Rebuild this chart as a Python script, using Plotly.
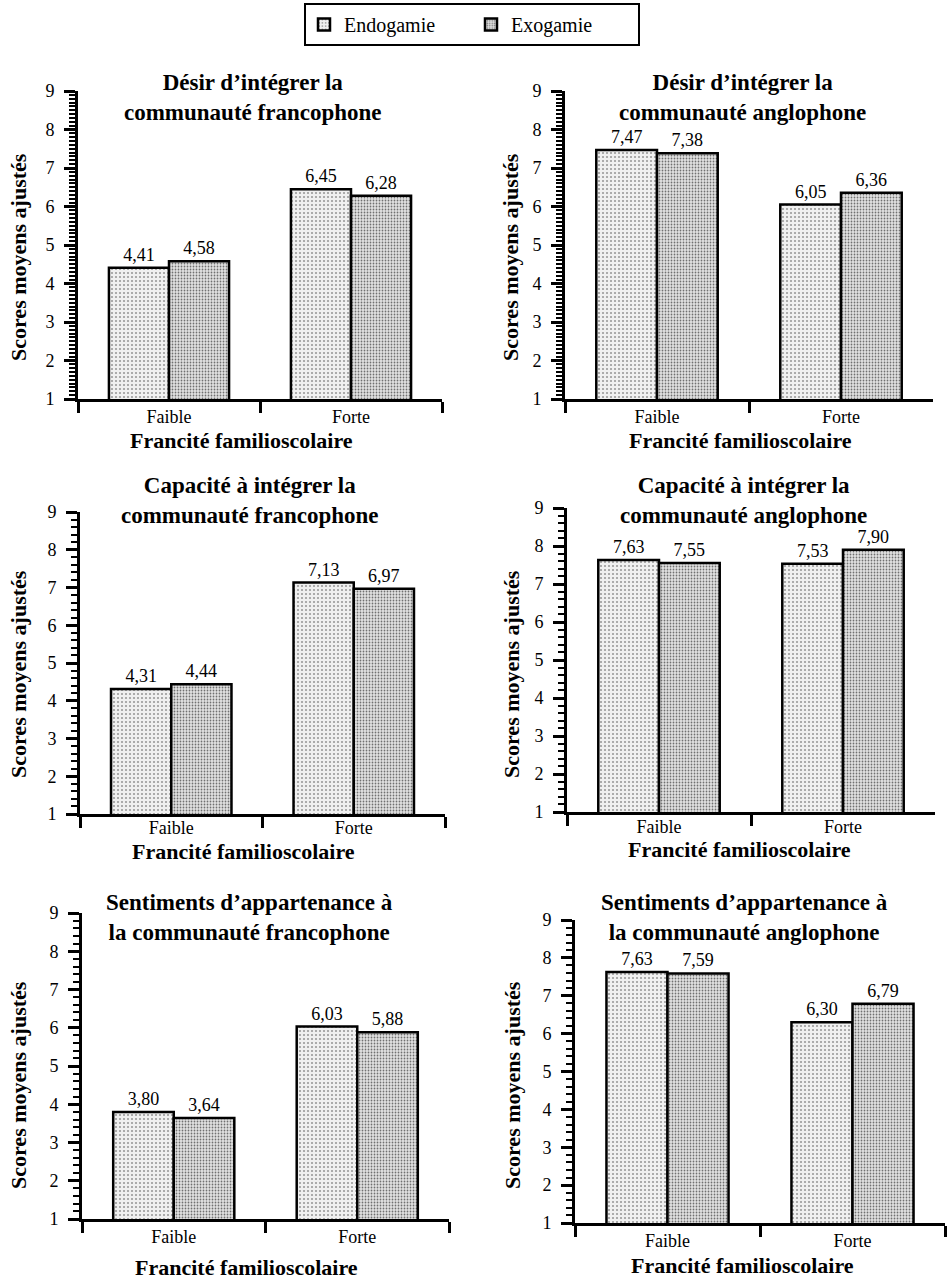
import plotly.graph_objects as go

W, H = 947, 1280

# ---------------- data ----------------
categories = ["Faible", "Forte"]
series_names = ["Endogamie", "Exogamie"]

titles = [
    "Désir d’intégrer la<br>communauté francophone",
    "Désir d’intégrer la<br>communauté anglophone",
    "Capacité à intégrer la<br>communauté francophone",
    "Capacité à intégrer la<br>communauté anglophone",
    "Sentiments d’appartenance à<br>la communauté francophone",
    "Sentiments d’appartenance à<br>la communauté anglophone",
]

endo_desir_franco = [4.41, 6.45]
exo_desir_franco = [4.58, 6.28]
endo_desir_anglo = [7.47, 6.05]
exo_desir_anglo = [7.38, 6.36]
endo_capacite_franco = [4.31, 7.13]
exo_capacite_franco = [4.44, 6.97]
endo_capacite_anglo = [7.63, 7.53]
exo_capacite_anglo = [7.55, 7.90]
endo_sentiment_franco = [3.80, 6.03]
exo_sentiment_franco = [3.64, 5.88]
endo_sentiment_anglo = [7.63, 6.30]
exo_sentiment_anglo = [7.59, 6.79]

y_ticks = [1, 2, 3, 4, 5, 6, 7, 8, 9]
y_title = "Scores moyens ajustés"
x_title = "Francité familioscolaire"

panel_values = [
    (endo_desir_franco, exo_desir_franco),
    (endo_desir_anglo, exo_desir_anglo),
    (endo_capacite_franco, exo_capacite_franco),
    (endo_capacite_anglo, exo_capacite_anglo),
    (endo_sentiment_franco, exo_sentiment_franco),
    (endo_sentiment_anglo, exo_sentiment_anglo),
]

# ---------------- layout (pixels) ----------------
# plot area: x0, x1, ytop(=9), ybottom(=1)
areas = [
    (78, 442, 91, 399),
    (565, 933, 91, 399),
    (80, 445, 512, 814),
    (567, 935, 508, 812),
    (82, 449, 913, 1219),
    (575, 945, 920, 1223),
]
title_pos = [(252, 98), (742, 98), (249, 501), (743, 500), (250, 917), (744, 917)]
ytitle_pos = [(18, 257), (510, 257), (18, 674), (511, 674), (18, 1085), (512, 1085)]
xtitle_pos = [(241, 440), (740, 440), (243, 851), (739, 849), (246, 1267), (742, 1265)]
xlabel_standoff = [-1, -1, -5, -4, -1, -1]
minor_steps = [0.1, 0.1, 0.2, 0.2, 0.2, 0.2]

FONT = "Liberation Serif"

styles = [
    dict(color="#ececec", pattern=dict(shape=".", bgcolor="#f0f0f0", fgcolor="#9a9a9a",
                                         size=4, solidity=0.22, fillmode="replace")),
    dict(color="#d6d6d6", pattern=dict(shape=".", bgcolor="#e2e2e2", fgcolor="#707070",
                                         size=3, solidity=0.27, fillmode="replace")),
]


def fmt(v):
    return f"{v:.2f}".replace(".", ",")


fig = go.Figure()
annotations = []
layout_axes = {}

for i, (vals, area) in enumerate(zip(panel_values, areas)):
    sfx = "" if i == 0 else str(i + 1)
    xa, ya = "x" + sfx, "y" + sfx
    for s, (name, v) in enumerate(zip(series_names, vals)):
        fig.add_trace(go.Bar(
            x=categories, y=v, name=name,
            xaxis=xa, yaxis=ya,
            offsetgroup=str(s), legendgroup=name, showlegend=(i == 0),
            marker=dict(color=styles[s]["color"], pattern=styles[s]["pattern"],
                        line=dict(color="black", width=2.5)),
            text=[fmt(t) for t in v], textposition="outside",
            textfont=dict(family=FONT, size=18, color="black"),
            hoverinfo="skip",
        ))
    x0, x1, yt, yb = area
    layout_axes["xaxis" + sfx] = dict(
        domain=[x0 / W, x1 / W], anchor=ya, type="category",
        categoryorder="array", categoryarray=categories,
        range=[-0.5, 1.5], showline=True, linecolor="black", linewidth=3,
        ticks="outside", tickson="boundaries", ticklen=11, tickwidth=2.5,
        ticklabelstandoff=xlabel_standoff[i],
        tickcolor="black", tickfont=dict(family=FONT, size=18, color="black"),
        showgrid=False, zeroline=False, fixedrange=True, automargin=False,
    )
    layout_axes["yaxis" + sfx] = dict(
        domain=[1 - yb / H, 1 - yt / H], anchor=xa, range=[1, 9],
        tickmode="array", tickvals=y_ticks, ticktext=[str(t) for t in y_ticks],
        showline=True, linecolor="black", linewidth=3,
        ticks="outside", ticklen=11, tickwidth=2.5, tickcolor="black",
        ticklabelstandoff=6,
        minor=dict(dtick=minor_steps[i], tick0=1, ticks="outside", ticklen=6,
                   tickwidth=1.5, tickcolor="black", showgrid=False),
        tickfont=dict(family=FONT, size=18, color="black"),
        showgrid=False, zeroline=False, fixedrange=True, automargin=False,
    )
    tx, ty = title_pos[i]
    annotations.append(dict(
        text="<b>" + titles[i] + "</b>", x=tx / W, y=1 - ty / H,
        xref="paper", yref="paper", xanchor="center", yanchor="middle",
        showarrow=False, font=dict(family=FONT, size=23, color="black"),
    ))
    yx, yy = ytitle_pos[i]
    annotations.append(dict(
        text="<b>" + y_title + "</b>", x=yx / W, y=1 - yy / H, textangle=-90,
        xref="paper", yref="paper", xanchor="center", yanchor="middle",
        showarrow=False, font=dict(family=FONT, size=22, color="black"),
    ))
    xx, xy = xtitle_pos[i]
    annotations.append(dict(
        text="<b>" + x_title + "</b>", x=xx / W, y=1 - xy / H,
        xref="paper", yref="paper", xanchor="center", yanchor="middle",
        showarrow=False, font=dict(family=FONT, size=22, color="black"),
    ))

fig.update_layout(
    template="none",
    width=W, height=H,
    margin=dict(l=0, r=0, t=0, b=0, pad=0, autoexpand=False),
    paper_bgcolor="white", plot_bgcolor="white",
    barmode="group", bargap=0.34, bargroupgap=0,
    font=dict(family=FONT, color="black"),
    annotations=annotations,
    showlegend=True,
    legend=dict(
        orientation="h", x=304 / W, xanchor="left", y=1 - 3 / H, yanchor="top",
        bordercolor="black", borderwidth=2, bgcolor="white",
        font=dict(family=FONT, size=20, color="black"),
        entrywidth=122, entrywidthmode="pixels",
        itemclick=False, itemdoubleclick=False,
    ),
    **layout_axes,
)

fig.write_html(
    "out.html",
    config={"displayModeBar": False},
    post_script="document.body.style.margin='0';document.body.style.padding='0';",
)
